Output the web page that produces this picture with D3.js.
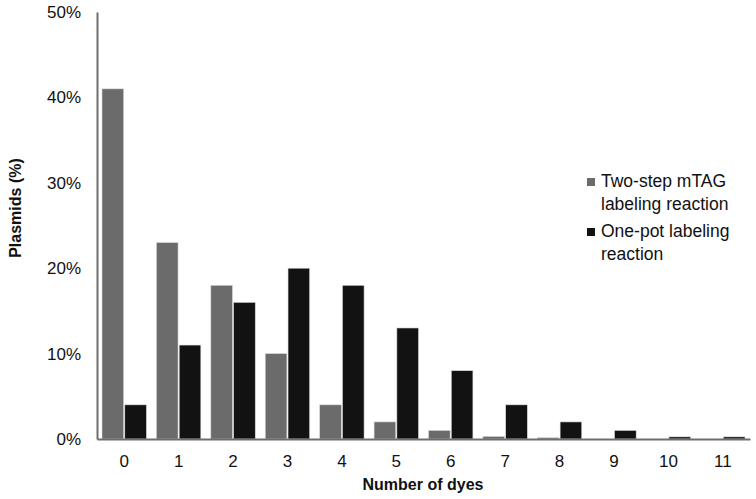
<!DOCTYPE html>
<html>
  <head>
    <meta charset="utf-8">
    <style>
    body { margin: 0; background: #fff; }
    #chart-area svg { display: block; }
    .axis text { font-family: "Liberation Sans", Arial, sans-serif; font-size: 17px; fill: #111; }
    .axis-title { font-family: "Liberation Sans", Arial, sans-serif; font-size: 16px; font-weight: bold; fill: #111; }
    .legend text { font-family: "Liberation Sans", Arial, sans-serif; font-size: 17.5px; fill: #111; }
    </style>
  </head>
  <body>
    <div id="chart-area"></div>

    <script src="https://d3js.org/d3.v7.min.js"></script>
    <script>
      // Data
      const dyeCounts = ["0", "1", "2", "3", "4", "5", "6", "7", "8", "9", "10", "11"];
      const twoStep = [41, 23, 18, 10, 4, 2, 1, 0.3, 0.15, 0, 0, 0];
      const onePot = [4, 11, 16, 20, 18, 13, 8, 4, 2, 1, 0.25, 0.25];
      const seriesNames = ["Two-step mTAG|labeling reaction", "One-pot labeling|reaction"];
      const seriesColors = ["#6b6b6b", "#121212"];
      const yTicks = [0, 10, 20, 30, 40, 50];

      const width = 756;
      const height = 499;
      const margin = { top: 12, right: 6, bottom: 60, left: 97 };

      const svg = d3.select("#chart-area")
        .append("svg")
          .attr("width", width)
          .attr("height", height);

      const x = d3.scaleBand()
        .domain(dyeCounts)
        .range([margin.left, width - margin.right]);

      const xs = d3.scaleBand()
        .domain([0, 1])
        .range([5, x.bandwidth() - 5])
        .paddingInner(0.05);

      const y = d3.scaleLinear()
        .domain([0, 50])
        .range([height - margin.bottom - 0, margin.top]);

      const rows = dyeCounts.map((d, i) => ({ name: d, values: [twoStep[i], onePot[i]] }));

      // bars
      const group = svg.selectAll("g.cat")
        .data(rows)
        .enter().append("g")
          .attr("class", "cat")
          .attr("transform", d => `translate(${x(d.name)},0)`);

      group.selectAll("rect")
        .data(d => d.values.map((v, k) => ({ k: k, v: v })))
        .enter().append("rect")
          .attr("x", d => xs(d.k))
          .attr("width", xs.bandwidth())
          .attr("y", d => y(d.v))
          .attr("height", d => y(0) - y(d.v))
          .attr("fill", d => seriesColors[d.k])
          .attr("stroke", "#d8d8d8")
          .attr("stroke-width", 0.6);

      // axes
      const yAxis = svg.append("g")
        .attr("class", "axis")
        .attr("transform", `translate(${margin.left},0)`)
        .call(d3.axisLeft(y).tickValues(yTicks).tickSize(0).tickPadding(16).tickFormat(d => d + "%"));

      const xAxis = svg.append("g")
        .attr("class", "axis")
        .attr("transform", `translate(0,${y(0)})`)
        .call(d3.axisBottom(x).tickSize(0).tickPadding(16));

      svg.selectAll(".axis .domain")
        .attr("stroke", "#6e6e6e")
        .attr("stroke-width", 2);

      svg.append("text")
        .attr("class", "axis-title")
        .attr("text-anchor", "middle")
        .attr("x", 423)
        .attr("y", 490)
        .text("Number of dyes");

      svg.append("text")
        .attr("class", "axis-title")
        .attr("text-anchor", "middle")
        .attr("transform", "translate(21,208) rotate(-90)")
        .text("Plasmids (%)");

      // legend
      const legend = svg.append("g")
        .attr("class", "legend")
        .attr("transform", "translate(587,178)");

      seriesNames.forEach((name, i) => {
        const item = legend.append("g")
          .attr("transform", `translate(0,${i * 50})`);
        item.append("rect")
          .attr("width", 8)
          .attr("height", 8)
          .attr("fill", seriesColors[i]);
        name.split("|").forEach((line, j) => {
          item.append("text")
            .attr("x", 14)
            .attr("y", 9 + j * 23)
            .text(line);
        });
      });
    </script>
  </body>
</html>
